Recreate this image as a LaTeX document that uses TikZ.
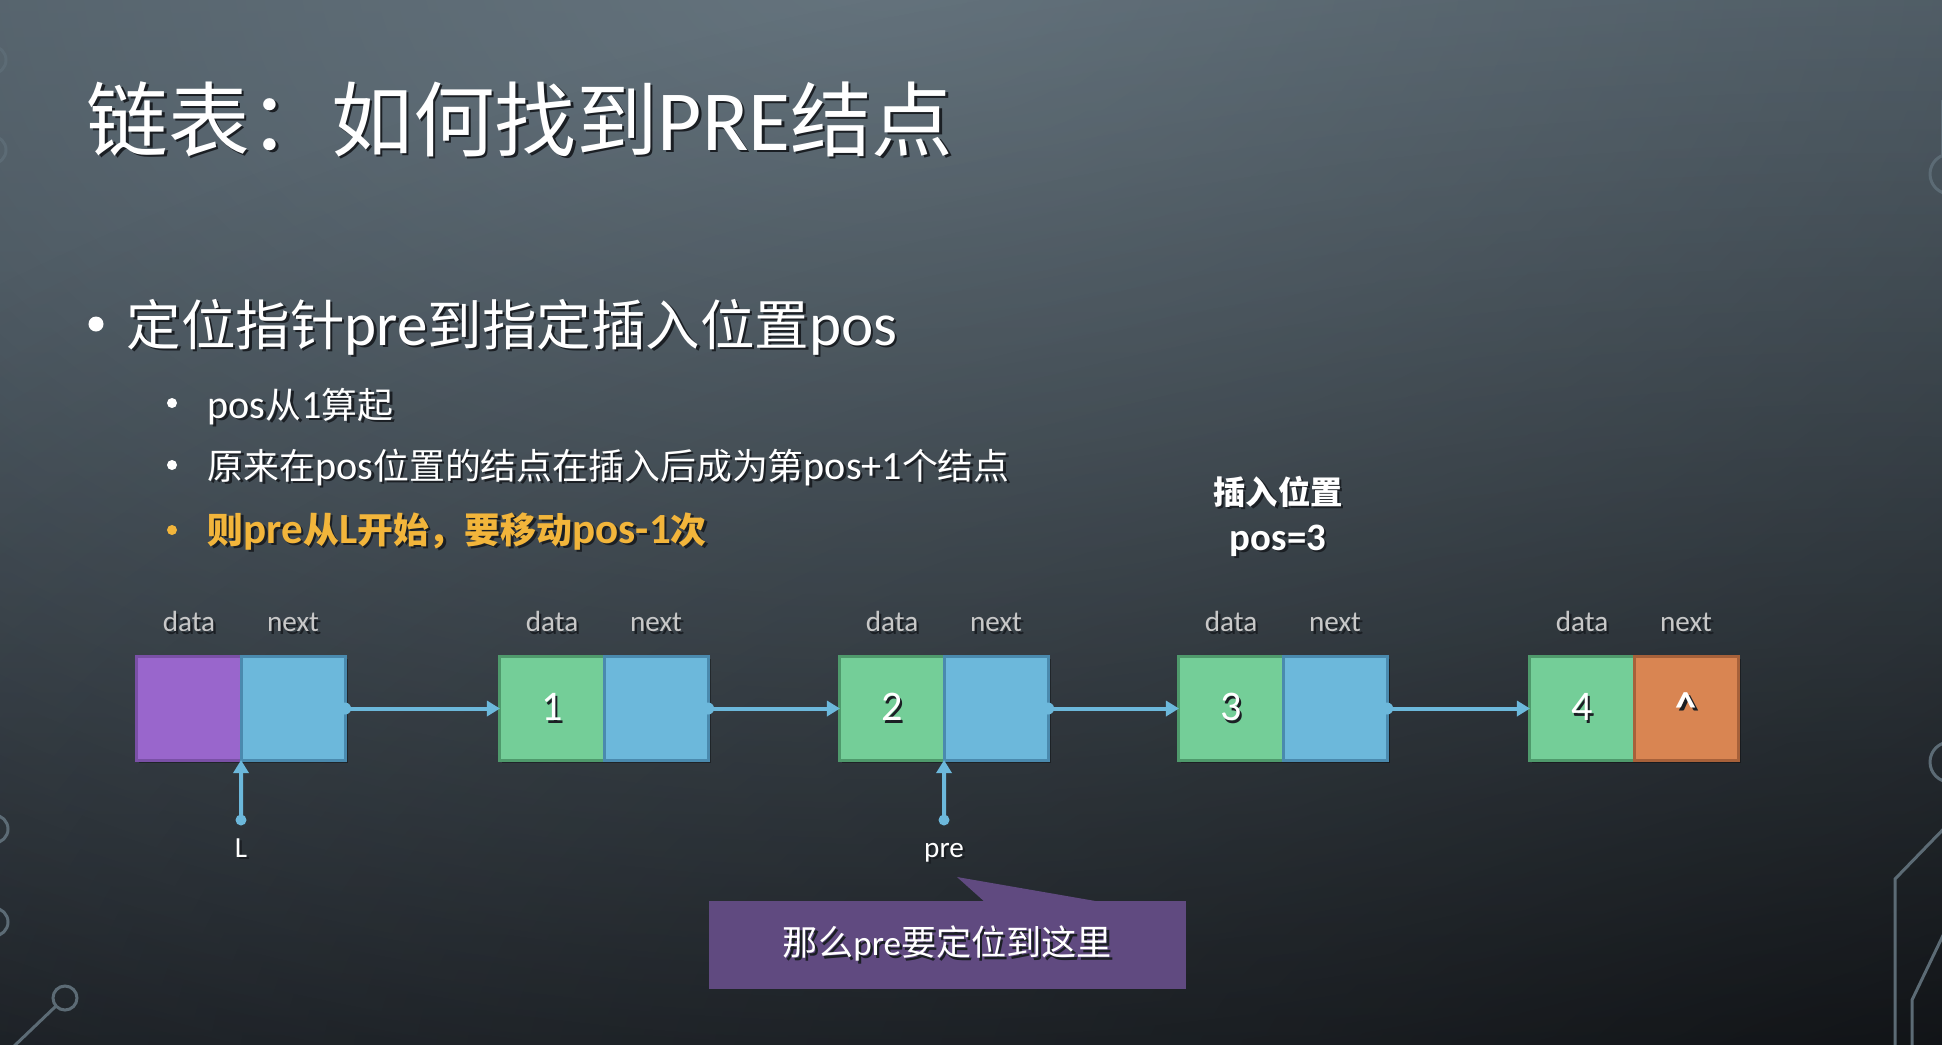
\documentclass[tikz,border=0pt]{standalone}
\usepackage{fontspec}
\setmainfont{Carlito}
\newfontfamily\cjk{Noto Sans CJK SC}
\newfontfamily\latT{Carlito}[Scale=1.05]
\newfontfamily\latA{Carlito}[Scale=1.12]
\newfontfamily\latB{Carlito}[Scale=1.2]
\usetikzlibrary{arrows.meta,shadows,fadings,positioning}

\definecolor{bgTop}{HTML}{3F4B54}
\definecolor{bgMid}{HTML}{2C353D}
\definecolor{bgBot}{HTML}{14171C}
\definecolor{glowc}{HTML}{6C7B85}
\definecolor{decoc}{HTML}{5C6B75}
\definecolor{purpleF}{HTML}{9966CC}
\definecolor{purpleB}{HTML}{7A50A6}
\definecolor{blueF}{HTML}{6CB8DB}
\definecolor{blueB}{HTML}{4A8AAE}
\definecolor{greenF}{HTML}{74CE98}
\definecolor{greenB}{HTML}{4F9A6C}
\definecolor{orangeF}{HTML}{D98552}
\definecolor{orangeB}{HTML}{A7613A}
\definecolor{linkc}{HTML}{6CB8DB}
\definecolor{calloutc}{HTML}{604A80}
\definecolor{hilite}{HTML}{F2B53B}
\definecolor{lblgray}{HTML}{C8C8C8}
\definecolor{shadowc}{HTML}{1B1F24}

\newcommand\zh[1]{{\cjk #1}}
\newcommand\setfs[1]{\fontsize{#1pt}{#1pt}\selectfont}
\newcommand\shd[1]{\makebox[0pt][l]{\kern0.7pt\raisebox{-0.7pt}{\color{shadowc}#1}}#1}

\tikzfading[name=glow, inner color=transparent!0, outer color=transparent!100]

\begin{document}
\begin{tikzpicture}[x=0.01cm, y=-0.01cm,
  deco/.style={draw=decoc, line width=0.03cm},
  cell/.style={draw, line width=0.03cm, minimum width=1.04cm, minimum height=1.03cm,
    inner sep=0, outer sep=0, text=white, font=\setfs{12},
    drop shadow={shadow xshift=0.025cm, shadow yshift=-0.025cm, opacity=0.35, fill=black}},
  headcell/.style={cell, fill=purpleF, draw=purpleB},
  ptrcell/.style={cell, fill=blueF, draw=blueB},
  datacell/.style={cell, fill=greenF, draw=greenB},
  nullcell/.style={cell, fill=orangeF, draw=orangeB},
  fieldlbl/.style={text=lblgray, font=\setfs{8.3}, inner sep=0},
  ptrlbl/.style={text=white, font=\setfs{8.3}, inner sep=0, anchor=base},
  body/.style={text=white, inner sep=0, anchor=base west},
  link/.style={draw=linkc, line width=0.04cm, -{Triangle[length=0.13cm, width=0.15cm]}},
  calloutbox/.style={fill=calloutc, minimum width=4.77cm, minimum height=0.88cm,
    inner sep=0, text=white, font=\setfs{10}},
]
\clip (0,0) rectangle (1942,1044);

% background
\shade[top color=bgTop, middle color=bgMid, bottom color=bgBot] (0,0) rectangle (1942,1044);
\fill[glowc, path fading=glow, fill opacity=0.85] (880,-40) ellipse [x radius=24cm, y radius=15cm];
\fill[black, path fading=glow, fill opacity=0.45] (1900,1100) ellipse [x radius=26cm, y radius=12cm];

% circuit ornaments along the edges
\draw[deco] (-8,60) circle[radius=0.14cm];
\draw[deco] (-8,150) circle[radius=0.14cm];
\draw[deco] (-6,829) circle[radius=0.14cm];
\draw[deco] (-6,922) circle[radius=0.14cm];
\draw[deco] (65,998) circle[radius=0.12cm];
\draw[deco] (56,1006) -- (10,1050);
\draw[deco] (1942,100) -- (1942,156);
\draw[deco] (1950,174) circle[radius=0.2cm];
\draw[deco] (1950,762) circle[radius=0.2cm];
\draw[deco] (1960,812) -- (1895,879) -- (1895,1050);
\draw[deco] (1960,900) -- (1912,1000) -- (1912,1050);

% title
\node[body, font=\latT\setfs{23.2}] (title) at (86,150)
  {\shd{\zh{链表：如何找到}PRE\zh{结点}}};

% bullet list
\fill[white] (96,324) circle[radius=0.075cm];
\node[body, font=\latA\setfs{15.5}] (b0) at (126,345)
  {\shd{\zh{定位指针}pre\zh{到指定插入位置}pos}};
\fill[white] (172,403) circle[radius=0.05cm];
\node[body, font=\latA\setfs{10.2}] (b1) at (207,418)
  {\shd{pos\zh{从}1\zh{算起}}};
\fill[white] (172,465) circle[radius=0.05cm];
\node[body, font=\latA\setfs{10.2}] (b2) at (207,479)
  {\shd{\zh{原来在}pos\zh{位置的结点在插入后成为第}pos+1\zh{个结点}}};
\fill[hilite] (172,530) circle[radius=0.05cm];
\node[body, text=hilite, font=\latB\bfseries\setfs{10.2}] (b3) at (207,543)
  {\shd{\zh{则}pre\zh{从}L\zh{开始，要移动}pos-1\zh{次}}};

% insert position note
\node[text=white, inner sep=0, anchor=base, font=\latB\bfseries\setfs{9.2}] (insA) at (1278,504)
  {\shd{\zh{插入位置}}};
\node[text=white, inner sep=0, anchor=base, font=\latB\bfseries\setfs{9.2}] (insB) at (1278,550)
  {\shd{pos=3}};

% list nodes
\node[headcell] (a0d) at (189,708.5) {};
\node[ptrcell, right=0pt of a0d] (a0n) {};
\node[datacell] (a1d) at (552,708.5) {\shd{1}};
\node[ptrcell, right=0pt of a1d] (a1n) {};
\node[datacell] (a2d) at (892,708.5) {\shd{2}};
\node[ptrcell, right=0pt of a2d] (a2n) {};
\node[datacell] (a3d) at (1231,708.5) {\shd{3}};
\node[ptrcell, right=0pt of a3d] (a3n) {};
\node[datacell] (a4d) at (1582,708.5) {\shd{4}};
\node[nullcell, right=0pt of a4d] (a4n) {\shd{\textbf{\textasciicircum}}};

% field captions
\foreach \c in {a0d,a1d,a2d,a3d,a4d}
  \node[fieldlbl, above=0.22cm of \c] (\c-lbl) {\shd{data}};
\foreach \c in {a0n,a1n,a2n,a3n,a4n}
  \node[fieldlbl, above=0.22cm of \c] (\c-lbl) {\shd{next}};

% next links
\foreach \s/\t in {a0n/a1d,a1n/a2d,a2n/a3d,a3n/a4d}{
  \fill[linkc] (\s.east) circle[radius=0.06cm];
  \draw[link] (\s.east) -- (\t.west);
}

% pointers L and pre
\coordinate (Ldot) at (241,820);
\fill[linkc] (Ldot) circle[radius=0.055cm];
\draw[link] (Ldot) -- (a0d.south east);
\node[ptrlbl] (Llbl) at (241,857) {\shd{L}};

\coordinate (Pdot) at (944,820);
\fill[linkc] (Pdot) circle[radius=0.055cm];
\draw[link] (Pdot) -- (a2d.south east);
\node[ptrlbl] (Plbl) at (944,857) {\shd{pre}};

% callout
\fill[calloutc] (986,903) -- (957,877) -- (1107,903) -- cycle;
\node[calloutbox] (callout) at (947.5,945) {\shd{\zh{那么}pre\zh{要定位到这里}}};
\end{tikzpicture}
\end{document}
